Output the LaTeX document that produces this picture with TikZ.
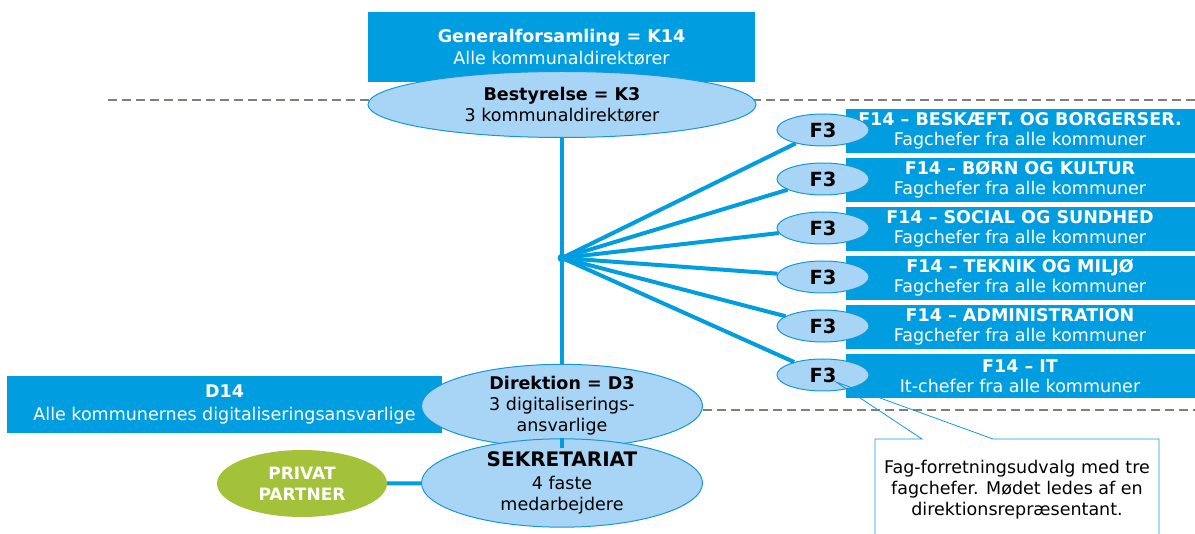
\documentclass[tikz,border=0pt]{standalone}
\usepackage{fontspec}
\setmainfont{DejaVu Sans}
\usetikzlibrary{shapes.geometric}
\definecolor{boxblue}{RGB}{0,158,224}
\definecolor{lightblue}{RGB}{168,212,245}
\definecolor{edgeblue}{RGB}{22,152,214}
\definecolor{partnergreen}{RGB}{164,194,57}
\definecolor{dashgrey}{RGB}{128,128,118}
\newcommand{\basefont}{\fontsize{17.5}{21}\selectfont}
\begin{document}
\begin{tikzpicture}[x=1pt,y=-1pt,
  bluebox/.style={rectangle, fill=boxblue, text=white, inner sep=0pt,
    align=center, font=\basefont},
  oval/.style={ellipse, fill=lightblue, draw=edgeblue, line width=1pt,
    inner sep=0pt, align=center, font=\basefont, text=black},
  partner/.style={ellipse, fill=partnergreen, inner sep=0pt, align=center,
    text=white, font=\fontsize{17}{21}\selectfont\bfseries},
  fthree/.style={oval, minimum width=92pt, minimum height=32pt,
    font=\fontsize{19.5}{22}\selectfont\bfseries},
  link/.style={draw=boxblue, line width=4pt},
  divider/.style={draw=dashgrey, line width=1.5pt, dash pattern=on 9pt off 5pt},
  note/.style={draw=edgeblue, line width=0.8pt}
]
\useasboundingbox (0,0) rectangle (1195,534);

% level dividers
\draw[divider] (108,100) -- (1195,100);
\draw[divider] (703,410) -- (1195,410);

% rectangular bodies
\node[bluebox, minimum width=387pt, minimum height=70pt] (gen) at (561.5,47)
  {\textbf{Generalforsamling = K14}\\[1pt]Alle kommunaldirektører};
\node[bluebox, minimum width=435pt, minimum height=57pt] (d14) at (224.5,404.5)
  {\textbf{D14}\\[2pt]Alle kommunernes digitaliseringsansvarlige};

\foreach \i/\ttl/\sub in {
  1/{F14 – BESKÆFT. OG BORGERSER.}/{Fagchefer fra alle kommuner},
  2/{F14 – BØRN OG KULTUR}/{Fagchefer fra alle kommuner},
  3/{F14 – SOCIAL OG SUNDHED}/{Fagchefer fra alle kommuner},
  4/{F14 – TEKNIK OG MILJØ}/{Fagchefer fra alle kommuner},
  5/{F14 – ADMINISTRATION}/{Fagchefer fra alle kommuner},
  6/{F14 – IT}/{It-chefer fra alle kommuner}}
{
  \node[bluebox, minimum width=349pt, minimum height=44pt] (b\i)
    at (1020,{131+49*(\i-1)}) {\textbf{\ttl}\\[-1pt]\sub};
}

% ovals
\node[oval, minimum width=388pt, minimum height=66pt] (best) at (562,104.5)
  {\textbf{Bestyrelse = K3}\\3 kommunaldirektører};
\node[oval, minimum width=281pt, minimum height=68pt] (dir) at (562,406)
  {\textbf{Direktion = D3}\\3 digitaliserings-\\ansvarlige};
\node[oval, minimum width=281pt, minimum height=68pt] (sek) at (562,483)
  {{\fontsize{20}{22}\selectfont\bfseries SEKRETARIAT}\\[2pt]4 faste\\medarbejdere};
\node[partner, minimum width=170pt, minimum height=67pt] (priv) at (302,483.5)
  {PRIVAT\\PARTNER};

\foreach \i in {1,...,6}{
  \node[fthree] (f\i) at (823,{130+49*(\i-1)}) {F3};
}

% hub and connectors
\node[circle, fill=boxblue, inner sep=0pt, minimum size=9pt] (hub) at (562,258) {};
\draw[link] (best) -- (dir);
\draw[link] (dir) -- (sek);
\draw[link] (priv) -- (sek);
\foreach \i in {1,...,6}{
  \draw[link] (hub.center) -- (f\i);
}

% callout note
\coordinate (tip) at (836,382);
\node[align=center, font=\basefont, text=black] (notetext) at (1017,490)
  {Fag-forretningsudvalg med tre\\fagchefer. Mødet ledes af en\\direktionsrepræsentant.};
\draw[note] (875,545) -- (875,439) -- (922,439) -- (tip) -- (993,439)
  -- (1159,439) -- (1159,545);
\end{tikzpicture}
\end{document}
